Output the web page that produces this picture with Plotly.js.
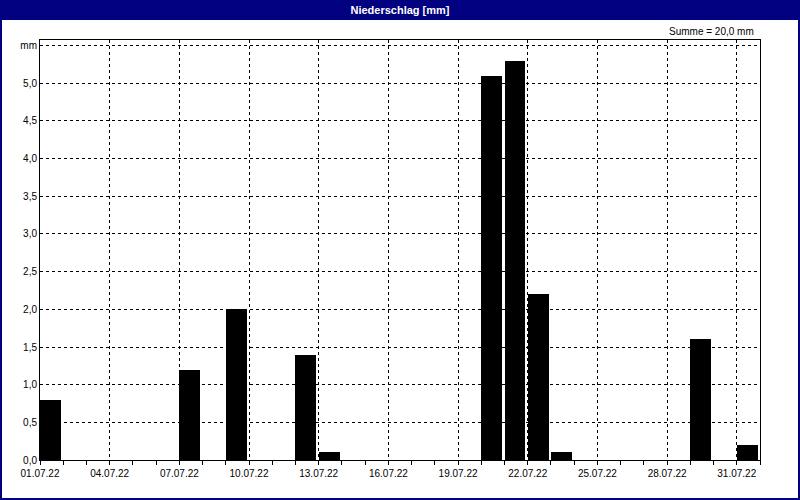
<!DOCTYPE html>
<html>
<head>
<meta charset="utf-8">
<script src="https://cdn.plot.ly/plotly-3.0.1.min.js"></script>
<style>html,body{margin:0;padding:0;background:#fff;}#chart{width:800px;height:500px;}</style>
</head>
<body>
<div id="chart"></div>
<script>
// Daily precipitation, July 2022 (days without rain omitted)
const dates = ['2022-07-01','2022-07-07','2022-07-09','2022-07-12','2022-07-13','2022-07-20','2022-07-21','2022-07-22','2022-07-23','2022-07-29','2022-07-31'];
const precip = [0.8, 1.2, 2.0, 1.4, 0.1, 5.1, 5.3, 2.2, 0.1, 1.6, 0.2];
const yTickVals = [0, 0.5, 1, 1.5, 2, 2.5, 3, 3.5, 4, 4.5, 5, 5.5];
const yTickText = ['0,0','0,5','1,0','1,5','2,0','2,5','3,0','3,5','4,0','4,5','5,0','mm'];
const chartTitle = 'Niederschlag [mm]';

const DAY = 86400000;
const total = precip.reduce((a, b) => a + b, 0);
const sumText = 'Summe = ' + total.toFixed(1).replace('.', ',') + ' mm';

// plot area in pixels: left 40, right 760, top 40, bottom 460
const L = 40, R = 40, T = 40, B = 40, W = 800, H = 500;
const pw = W - L - R, ph = H - T - B;
const px = x => (x - L) / pw;
const py = y => (H - B - y) / ph;

const font = {family: 'Liberation Sans, Arial, sans-serif', size: 10, color: '#000'};

const trace = {
  type: 'bar',
  x: dates,
  y: precip,
  width: 0.9 * DAY,
  offset: 0,
  marker: {color: '#000', line: {width: 0}},
  hoverinfo: 'x+y'
};

const layout = {
  width: W, height: H,
  margin: {l: L, r: R, t: T, b: B, pad: 0},
  paper_bgcolor: '#fff',
  plot_bgcolor: '#fff',
  font: font,
  showlegend: false,
  bargap: 0,
  title: {
    text: '<b>' + chartTitle + '</b>',
    font: {family: 'Liberation Sans, Arial, sans-serif', size: 11, color: '#fff'},
    x: 0.5, xanchor: 'center',
    xref: 'container', yref: 'container',
    y: 1 - 10 / H, yanchor: 'middle'
  },
  xaxis: {
    type: 'date',
    range: ['2022-07-01', '2022-08-01'],
    tick0: '2022-07-01',
    dtick: 3 * DAY,
    tickformat: '%d.%m.%y',
    ticks: 'outside', ticklen: 4, tickcolor: '#000', tickwidth: 1,
    minor: {dtick: DAY, tick0: '2022-07-01', ticks: 'outside', ticklen: 4, tickcolor: '#000', showgrid: false},
    showgrid: true, gridcolor: '#000', gridwidth: 1, griddash: '3px,3px',
    showline: true, linecolor: '#000', linewidth: 1, mirror: true,
    zeroline: false,
    tickfont: font,
    fixedrange: true
  },
  yaxis: {
    range: [0, 5.575],
    tickmode: 'array',
    tickvals: yTickVals,
    ticktext: yTickText,
    ticks: '', 
    showgrid: true, gridcolor: '#000', gridwidth: 1, griddash: '3px,3px',
    showline: true, linecolor: '#000', linewidth: 1, mirror: true,
    zeroline: false,
    tickfont: font,
    fixedrange: true
  },
  shapes: [
    // title bar
    {type: 'rect', xref: 'paper', yref: 'paper', layer: 'below',
     x0: px(0), x1: px(W), y0: py(20), y1: py(0),
     fillcolor: '#000080', line: {width: 0}},
    // outer frame
    {type: 'rect', xref: 'paper', yref: 'paper', layer: 'above',
     x0: px(1), x1: px(W - 1), y0: py(H - 1), y1: py(1),
     fillcolor: 'rgba(0,0,0,0)', line: {color: '#000080', width: 2}}
  ],
  annotations: [
    {xref: 'paper', yref: 'paper', x: px(756), y: py(31),
     xanchor: 'right', yanchor: 'middle', showarrow: false,
     text: sumText, font: font}
  ]
};

Plotly.newPlot('chart', [trace], layout, {displayModeBar: false, staticPlot: true});
</script>
</body>
</html>
